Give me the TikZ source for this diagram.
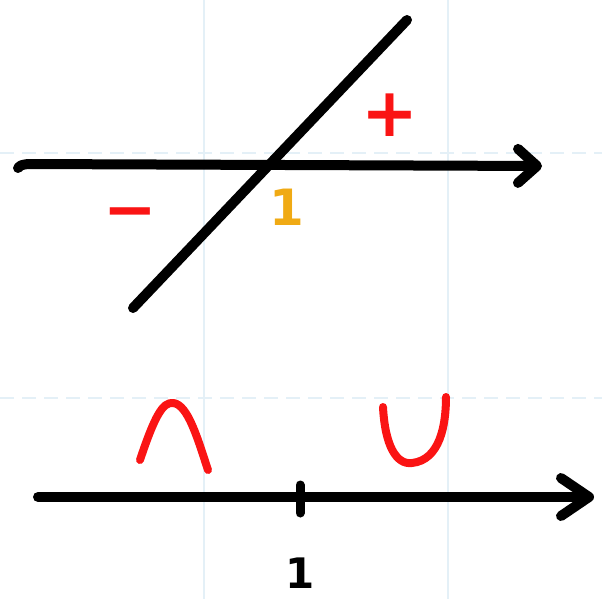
\documentclass[tikz,border=0pt]{standalone}
\usepackage{fontspec}
\newfontfamily\handfont{DejaVu Sans}
\usetikzlibrary{arrows.meta}
\definecolor{gridblue}{RGB}{228,240,247}
\definecolor{penred}{RGB}{250,20,20}
\definecolor{penyellow}{RGB}{240,170,20}
\tikzset{
  gridline/.style={draw=gridblue, line width=1.2pt},
  axisline/.style={draw=black, line width=10pt, line cap=round, line join=round},
  redstroke/.style={draw=penred, line width=8pt, line cap=round, line join=round},
  sign/.style={inner sep=0pt, font=\handfont\bfseries}
}
\begin{document}
\begin{tikzpicture}[x=1pt,y=-1pt]
\useasboundingbox (0,0) rectangle (602,599);
% faint grid
\draw[gridline] (204,0) -- (204,599);
\draw[gridline] (448,0) -- (448,599);
\draw[gridline, dashed, dash pattern=on 14pt off 8pt] (0,153) -- (602,153);
\draw[gridline, dashed, dash pattern=on 14pt off 8pt] (0,398) -- (602,398);
% top graph
\coordinate (A0) at (18,168);
\coordinate (A1) at (28,164);
\coordinate (A2) at (542,166);
\coordinate (D1) at (133,308);
\coordinate (D2) at (407,20);
\draw[axisline, -{Straight Barb[length=19pt, width=34pt, line cap=round, line join=round]}] (A0) .. controls (21,165) .. (A1) -- (A2);
\draw[axisline] (D1) -- (D2);
\node[sign, text=penred, font=\handfont\bfseries\fontsize{68}{68}\selectfont] (plus) at (390,115) {+};
\node[sign, text=penred, font=\handfont\bfseries\fontsize{64}{64}\selectfont] (minus) at (130,220) {−};
\node[sign, text=penyellow, font=\handfont\bfseries\fontsize{50}{50}\selectfont] (one) at (287,207) {1};
% bottom graph
\coordinate (B1) at (38,497);
\coordinate (B2) at (594,497);
\coordinate (T1) at (300,485);
\coordinate (T2) at (300,513);
\draw[axisline, -{Straight Barb[length=28pt, width=38pt, line cap=round, line join=round]}] (B1) -- (B2);
\draw[axisline, line width=9pt] (T1) -- (T2);
\node[sign, text=black, font=\handfont\bfseries\fontsize{42}{42}\selectfont] (onebot) at (300,573) {1};
\coordinate (C1) at (140,460);
\coordinate (C2) at (208,470);
\draw[redstroke] (C1) .. controls (155,415) and (163,402) .. (173,403) .. controls (188,404) and (198,440) .. (C2);
\coordinate (U1) at (383,407);
\coordinate (U2) at (446,397);
\draw[redstroke] (U1) .. controls (385,445) and (396,465) .. (412,463) .. controls (440,460) and (446,425) .. (U2);
\end{tikzpicture}
\end{document}
